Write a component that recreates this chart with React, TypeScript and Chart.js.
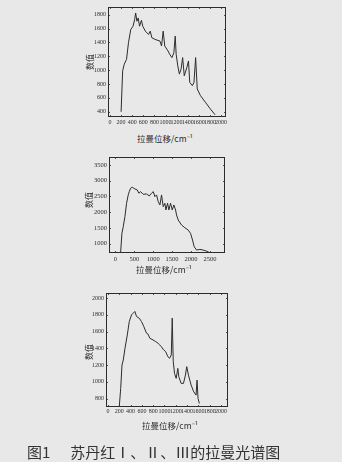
import React, { useEffect, useRef } from "react";
import { Chart, registerables } from "chart.js";

Chart.register(...registerables);

// ---------- data ----------
// Sudan Red I
const shift1 = [200, 228, 257, 298, 333, 374, 415, 444, 462, 485, 508, 532, 567, 590, 637, 695, 725, 754, 812, 900, 929, 958, 987, 1046, 1075, 1116, 1151, 1175, 1192, 1221, 1250, 1280, 1309, 1338, 1385, 1414, 1437, 1484, 1513, 1543, 1572, 1630, 1718, 1806, 1893];
const value1 = [400, 990, 1086, 1157, 1395, 1586, 1633, 1729, 1824, 1705, 1752, 1633, 1719, 1633, 1562, 1514, 1562, 1467, 1443, 1419, 1348, 1562, 1348, 1276, 1229, 1181, 1252, 1490, 1229, 1062, 943, 1014, 1181, 919, 1038, 1133, 824, 776, 824, 1181, 729, 633, 538, 443, 357];
// Sudan Red II
const shift2 = [137, 172, 207, 251, 295, 339, 366, 401, 445, 516, 577, 622, 666, 736, 824, 895, 956, 1001, 1045, 1089, 1133, 1177, 1221, 1265, 1309, 1336, 1380, 1415, 1459, 1503, 1547, 1592, 1618, 1662, 1750, 1838, 1926, 1988, 2041, 2085, 2147, 2235, 2324, 2412, 2500];
const value2 = [707, 1325, 1535, 1853, 2280, 2545, 2650, 2758, 2790, 2735, 2704, 2598, 2650, 2565, 2576, 2513, 2598, 2650, 2491, 2545, 2332, 2226, 2545, 2173, 2280, 2067, 2280, 2067, 2280, 2067, 2226, 2067, 1908, 1748, 1589, 1503, 1430, 1324, 1112, 900, 793, 815, 793, 760, 707];
// Sudan Red III
const shift3 = [201, 225, 248, 271, 301, 342, 377, 418, 447, 476, 505, 552, 593, 634, 681, 710, 739, 797, 845, 885, 915, 944, 985, 1020, 1060, 1090, 1120, 1137, 1155, 1178, 1207, 1236, 1253, 1295, 1336, 1371, 1394, 1424, 1471, 1517, 1559, 1576, 1594, 1617];
const value3 = [713, 922, 1201, 1261, 1401, 1560, 1720, 1800, 1820, 1840, 1780, 1760, 1720, 1660, 1581, 1569, 1521, 1500, 1480, 1461, 1441, 1420, 1381, 1361, 1300, 1281, 1321, 1760, 1241, 1101, 1042, 1161, 1061, 982, 982, 1081, 1181, 1081, 962, 882, 842, 1021, 802, 742];

const xTicks1 = [0, 200, 400, 600, 800, 1000, 1200, 1400, 1600, 1800, 2000];
const yTicks1 = [400, 600, 800, 1000, 1200, 1400, 1600, 1800];
const xTicks2 = [0, 500, 1000, 1500, 2000, 2500];
const yTicks2 = [1000, 1500, 2000, 2500, 3000, 3500];
const xTicks3 = [0, 200, 400, 600, 800, 1000, 1200, 1400, 1600, 1800, 2000];
const yTicks3 = [800, 1000, 1200, 1400, 1600, 1800, 2000];

const xTitle = "拉曼位移/cm⁻¹";
const yTitle = "数值";
const figLabel = "图1";
const caption = "苏丹红Ⅰ、Ⅱ、Ⅲ的拉曼光谱图";

const INK = "#2c2c2c";
const BG = "#e8e8e8";
const W = 342;

const framePlugin = {
  id: "frame",
  afterDraw(chart: any) {
    const { ctx, chartArea: a, scales } = chart;
    ctx.save();
    ctx.strokeStyle = INK;
    ctx.lineWidth = 1;
    ctx.strokeRect(a.left + 0.5, a.top + 0.5, a.right - a.left - 1, a.bottom - a.top - 1);
    ctx.lineWidth = 0.8;
    const tl = 2;
    ctx.beginPath();
    scales.x.ticks.forEach((t: any) => {
      const p = Math.round(scales.x.getPixelForValue(t.value)) + 0.5;
      ctx.moveTo(p, a.bottom);
      ctx.lineTo(p, a.bottom - tl);
      ctx.moveTo(p, a.top);
      ctx.lineTo(p, a.top + tl);
    });
    scales.y.ticks.forEach((t: any) => {
      const p = Math.round(scales.y.getPixelForValue(t.value)) + 0.5;
      ctx.moveTo(a.left, p);
      ctx.lineTo(a.left + tl, p);
      ctx.moveTo(a.right, p);
      ctx.lineTo(a.right - tl, p);
    });
    ctx.stroke();
    ctx.restore();
  },
};

type Props = {
  top: number;
  height: number;
  plotLeft: number;
  plotRight: number;
  plotTop: number;
  plotBottom: number;
  xMin: number;
  xMax: number;
  yMin: number;
  yMax: number;
  xTicks: number[];
  yTicks: number[];
  xs: number[];
  ys: number[];
  fontSize: number;
  xPad: number;
};

function Spectrum(p: Props) {
  const ref = useRef<HTMLCanvasElement | null>(null);
  useEffect(() => {
    if (!ref.current) return;
    const font = { family: "'Liberation Serif', serif", size: p.fontSize };
    const chart = new Chart(ref.current, {
      type: "line",
      data: {
        datasets: [
          {
            data: p.xs.map((x, i) => ({ x, y: p.ys[i] })),
            borderColor: INK,
            borderWidth: 1,
            pointRadius: 0,
            tension: 0,
            fill: false,
          },
        ],
      },
      options: {
        animation: false,
        responsive: false,
        events: [],
        layout: {
          padding: { left: 0, right: W - p.plotRight, top: p.plotTop - p.top, bottom: 0 },
        },
        plugins: { legend: { display: false }, tooltip: { enabled: false } },
        scales: {
          x: {
            type: "linear",
            min: p.xMin,
            max: p.xMax,
            grid: { display: false, drawTicks: false, tickLength: 0 },
            border: { display: false },
            ticks: {
              font,
              color: INK,
              padding: p.xPad,
              autoSkip: false,
              maxRotation: 0,
              minRotation: 0,
              callback: (v: any) => String(v),
            },
            afterBuildTicks: (s: any) => {
              s.ticks = p.xTicks.map((v) => ({ value: v }));
            },
            afterFit: (s: any) => {
              s.height = p.top + p.height - p.plotBottom;
            },
          },
          y: {
            type: "linear",
            min: p.yMin,
            max: p.yMax,
            grid: { display: false, drawTicks: false, tickLength: 0 },
            border: { display: false },
            ticks: {
              font,
              color: INK,
              padding: 2,
              autoSkip: false,
              callback: (v: any) => String(v),
            },
            afterBuildTicks: (s: any) => {
              s.ticks = p.yTicks.map((v) => ({ value: v }));
            },
            afterFit: (s: any) => {
              s.width = p.plotLeft;
            },
          },
        },
      },
      plugins: [framePlugin],
    });
    return () => chart.destroy();
  }, []);
  return (
    <canvas
      ref={ref}
      width={W}
      height={p.height}
      style={{ position: "absolute", left: 0, top: p.top, width: W, height: p.height }}
    />
  );
}

const cjk = "'Noto Sans CJK SC', sans-serif";

function XTitle({ cx, cy }: { cx: number; cy: number }) {
  return (
    <div
      style={{
        position: "absolute",
        left: cx - 40,
        top: cy - 6,
        width: 80,
        textAlign: "center",
        fontFamily: cjk,
        fontSize: 8.5,
        lineHeight: "12px",
        color: INK,
        whiteSpace: "nowrap",
      }}
    >
      {xTitle}
    </div>
  );
}

function YTitle({ cx, cy }: { cx: number; cy: number }) {
  return (
    <div
      style={{
        position: "absolute",
        left: cx - 15,
        top: cy - 6,
        width: 30,
        textAlign: "center",
        fontFamily: cjk,
        fontSize: 8,
        lineHeight: "12px",
        color: INK,
        transform: "rotate(-90deg)",
        whiteSpace: "nowrap",
      }}
    >
      {yTitle}
    </div>
  );
}

export default function App() {
  return (
    <div
      style={{
        position: "fixed",
        left: 0,
        top: 0,
        width: W,
        height: 462,
        background: BG,
        overflow: "hidden",
      }}
    >
      <Spectrum
        top={0}
        height={130}
        plotLeft={108}
        plotRight={226}
        plotTop={7}
        plotBottom={117}
        xMin={-36}
        xMax={2090}
        yMin={325}
        yMax={1910}
        xTicks={xTicks1}
        yTicks={yTicks1}
        xs={shift1}
        ys={value1}
        fontSize={6}
        xPad={2}
      />
      <XTitle cx={165} cy={138} />
      <YTitle cx={90} cy={62} />

      <Spectrum
        top={150}
        height={115}
        plotLeft={109}
        plotRight={225}
        plotTop={157}
        plotBottom={253}
        xMin={-170}
        xMax={2900}
        yMin={700}
        yMax={3750}
        xTicks={xTicks2}
        yTicks={yTicks2}
        xs={shift2}
        ys={value2}
        fontSize={6.5}
        xPad={2}
      />
      <XTitle cx={164} cy={269} />
      <YTitle cx={89} cy={200} />

      <Spectrum
        top={286}
        height={135}
        plotLeft={106}
        plotRight={228}
        plotTop={293}
        plotBottom={407}
        xMin={-35}
        xMax={2124}
        yMin={700}
        yMax={2060}
        xTicks={xTicks3}
        yTicks={yTicks3}
        xs={shift3}
        ys={value3}
        fontSize={6}
        xPad={1}
      />
      <XTitle cx={170} cy={425} />
      <YTitle cx={89} cy={352} />

      <div
        style={{
          position: "absolute",
          left: 27,
          top: 442,
          fontFamily: cjk,
          fontSize: 15,
          lineHeight: "20px",
          color: "#333",
          whiteSpace: "nowrap",
        }}
      >
        <span>{figLabel}</span>
        <span style={{ marginLeft: 20 }}>{caption}</span>
      </div>
    </div>
  );
}
